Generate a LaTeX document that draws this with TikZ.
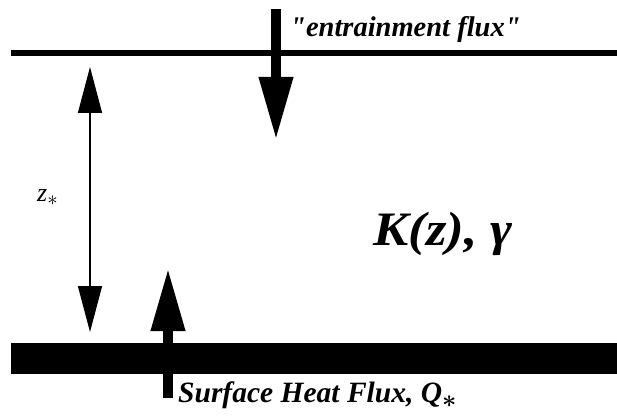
\documentclass[tikz,border=0pt]{standalone}
\usepackage{fontspec}
\setmainfont{Liberation Serif}[Ligatures=TeXOff]
\usetikzlibrary{arrows.meta}

\begin{document}
\begin{tikzpicture}[x=1pt, y=-1pt,
    flux/.style={line width=10pt, -{Triangle[length=63pt, width=32pt]}},
    fluxtext/.style={font=\bfseries\itshape\fontsize{28.5}{30}\selectfont, inner sep=0pt}]
    \useasboundingbox (0,0) rectangle (617,419);
    % top of the layer and the surface
    \coordinate (topL) at (11,53);
    \coordinate (topR) at (617,53);
    \draw[line width=5.5pt] (topL) -- (topR);
    \fill (11,343) rectangle (617,374);
    % fluxes
    \coordinate (entTop) at (276,9);
    \coordinate (entTip) at (276,140);
    \draw[flux] (entTop) -- (entTip);
    \node[fluxtext, anchor=base west] (ent) at (290,37) {"entrainment flux"};
    \coordinate (sfcBot) at (168,398);
    \coordinate (sfcTip) at (168,268);
    \draw[flux] (sfcBot) -- (sfcTip);
    \node[fluxtext, font=\bfseries\itshape\fontsize{29.5}{31}\selectfont, anchor=base west] (sfc) at (178,402)
        {Surface Heat Flux, \textit{Q}\raisebox{-5pt}{\fontsize{24}{24}\selectfont\boldmath$\ast$}};
    % depth of the layer
    \coordinate (zTop) at (90,67);
    \coordinate (zBot) at (90,332);
    \draw[{Triangle[length=46pt, width=24pt]}-{Triangle[length=46pt, width=24pt]}, line width=1.5pt] (zTop) -- (zBot);
    \node[inner sep=0pt, anchor=base west] (zs) at (37,202)
        {\fontsize{26}{28}\selectfont\textit{z}\raisebox{-4pt}{\fontsize{22}{22}\selectfont$\ast$}};
    \node[fluxtext, font=\bfseries\itshape\fontsize{48}{52}\selectfont, anchor=base west] (K) at (373,245)
        {\scalebox{1.1}[1]{K(z), γ}};
\end{tikzpicture}
\end{document}
